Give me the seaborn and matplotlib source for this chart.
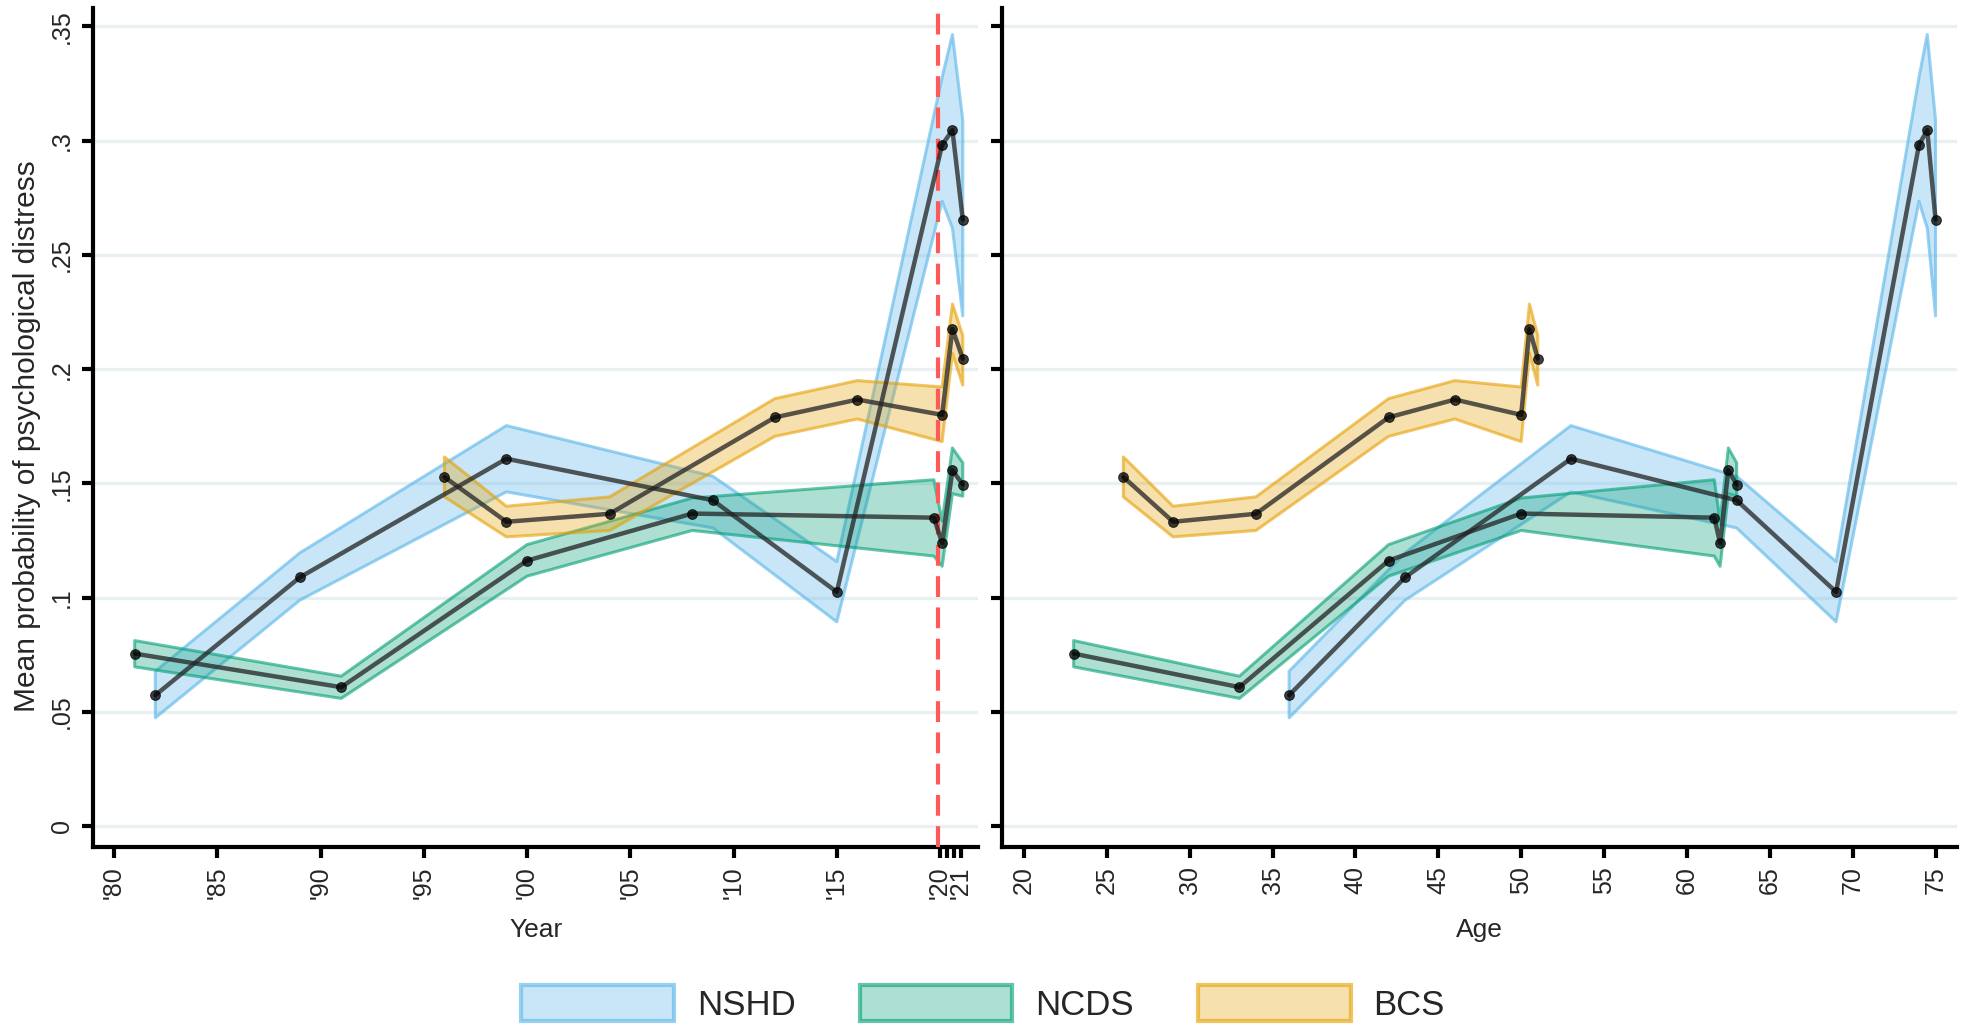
import pandas as pd
import matplotlib.pyplot as plt
from matplotlib.patches import Patch
from matplotlib.colors import to_rgba
import seaborn as sns

# values
cohorts = ['NSHD', 'NCDS', 'BCS']
colors = {'NSHD': '#56B4E9', 'NCDS': '#009E73', 'BCS': '#E69F00'}

nshd_year = [1982, 1989, 1999, 2009, 2015, 2020.1, 2020.6, 2021.1]
nshd_age = [36, 43, 53, 63, 69, 74, 74.5, 75]
nshd_mean = [0.0573, 0.1089, 0.1608, 0.1426, 0.1025, 0.2982, 0.3046, 0.2655]
nshd_lo = [0.0474, 0.0989, 0.1463, 0.1305, 0.0894, 0.2735, 0.2617, 0.2233]
nshd_hi = [0.0678, 0.1196, 0.1753, 0.1531, 0.1158, 0.3277, 0.3465, 0.3090]

ncds_year = [1981, 1991, 2000, 2008, 2019.7, 2020.1, 2020.6, 2021.1]
ncds_age = [23, 33, 42, 50, 61.65, 62, 62.5, 63]
ncds_mean = [0.0755, 0.0608, 0.1162, 0.1368, 0.1350, 0.1239, 0.1557, 0.1495]
ncds_lo = [0.0697, 0.0559, 0.1094, 0.1294, 0.1182, 0.1137, 0.1455, 0.1444]
ncds_hi = [0.0812, 0.0656, 0.1232, 0.1436, 0.1516, 0.1335, 0.1655, 0.1590]

bcs_year = [1996, 1999, 2004, 2012, 2016, 2020.1, 2020.6, 2021.1]
bcs_age = [26, 29, 34, 42, 46, 50, 50.5, 51]
bcs_mean = [0.1528, 0.1332, 0.1367, 0.1789, 0.1867, 0.1800, 0.2176, 0.2046]
bcs_lo = [0.1441, 0.1266, 0.1294, 0.1706, 0.1782, 0.1683, 0.2070, 0.1930]
bcs_hi = [0.1616, 0.1400, 0.1441, 0.1871, 0.1950, 0.1922, 0.2285, 0.2147]

lockdown_year = 2019.88

year_ticks = [1980, 1985, 1990, 1995, 2000, 2005, 2010, 2015, 2020, 2020.33, 2020.67, 2021]
year_labels = ["'80", "'85", "'90", "'95", "'00", "'05", "'10", "'15", "'20", "", "", "'21"]
age_ticks = [20, 25, 30, 35, 40, 45, 50, 55, 60, 65, 70, 75]
y_ticks = [0, 0.05, 0.1, 0.15, 0.2, 0.25, 0.3, 0.35]
y_labels = ['0', '.05', '.1', '.15', '.2', '.25', '.3', '.35']

frames = []
for name, yr, ag, m, lo, hi in [
    ('NSHD', nshd_year, nshd_age, nshd_mean, nshd_lo, nshd_hi),
    ('NCDS', ncds_year, ncds_age, ncds_mean, ncds_lo, ncds_hi),
    ('BCS', bcs_year, bcs_age, bcs_mean, bcs_lo, bcs_hi),
]:
    frames.append(pd.DataFrame({'cohort': name, 'year': yr, 'age': ag,
                                'mean': m, 'lo': lo, 'hi': hi}))
df = pd.concat(frames, ignore_index=True)

sns.set_style('white')
plt.rcParams['font.family'] = ['Liberation Sans', 'DejaVu Sans']

fig = plt.figure(figsize=(19.62, 10.25), dpi=100)
ax1 = fig.add_axes([0.0476, 0.174, 0.451, 0.818])
ax2 = fig.add_axes([0.5109, 0.174, 0.4866, 0.818])

for ax, xcol in [(ax1, 'year'), (ax2, 'age')]:
    for c in cohorts:
        d = df[df.cohort == c]
        ax.fill_between(d[xcol], d['lo'], d['hi'], facecolor=colors[c], alpha=0.32,
                        edgecolor='none', zorder=2)
        ax.fill_between(d[xcol], d['lo'], d['hi'], facecolor='none',
                        edgecolor=colors[c], alpha=0.6, linewidth=2.2, zorder=2)
    sns.lineplot(data=df, x=xcol, y='mean', units='cohort', estimator=None, sort=False,
                 color='#222222', alpha=0.75, linewidth=3.2, marker='o', markersize=7,
                 markerfacecolor='black', markeredgecolor='black', ax=ax, zorder=4)
    ax.set_ylim(-0.009, 0.358)
    ax.set_yticks(y_ticks)
    for yv in y_ticks:
        ax.axhline(yv, color='#E8F0F1', linewidth=2.4, zorder=1)
    for s in ['top', 'right']:
        ax.spines[s].set_visible(False)
    for s in ['left', 'bottom']:
        ax.spines[s].set_linewidth(3)
        ax.spines[s].set_color('black')
    ax.tick_params(axis='both', length=8, width=3, color='black', labelsize=18, pad=6,
                   left=True, bottom=True)
    ax.set_xlabel(xcol.capitalize(), fontsize=19, va='center')
    ax.xaxis.set_label_coords(0.5, -0.099)
    ax.set_ylabel('')

ax1.axvline(lockdown_year, color='#FF5A5A', linestyle=(0, (5, 2.5)), linewidth=3, zorder=3)
ax1.set_xlim(1979.0, 2021.85)
ax1.set_xticks(year_ticks)
ax1.set_xticklabels(year_labels, rotation=90)
ax1.set_yticklabels(y_labels, rotation=90, va='center')
ax1.set_ylabel('Mean probability of psychological distress', fontsize=21.5, va='center')
ax1.yaxis.set_label_coords(-0.0745, 0.49)

ax2.set_xlim(18.7, 76.3)
ax2.set_xticks(age_ticks)
ax2.set_xticklabels([str(a) for a in age_ticks], rotation=90)
ax2.set_yticklabels([])

handles = []
for c in cohorts:
    handles.append(Patch(facecolor=to_rgba(colors[c], 0.32), edgecolor=to_rgba(colors[c], 0.6),
                         linewidth=3, label=c))
fig.legend(handles=handles, loc='center', bbox_to_anchor=(0.501, 0.021), ncol=3,
           frameon=False, fontsize=25, handlelength=4.4, handleheight=1.2,
           handletextpad=0.65, columnspacing=1.85)

fig.savefig('out.png', dpi=100)
